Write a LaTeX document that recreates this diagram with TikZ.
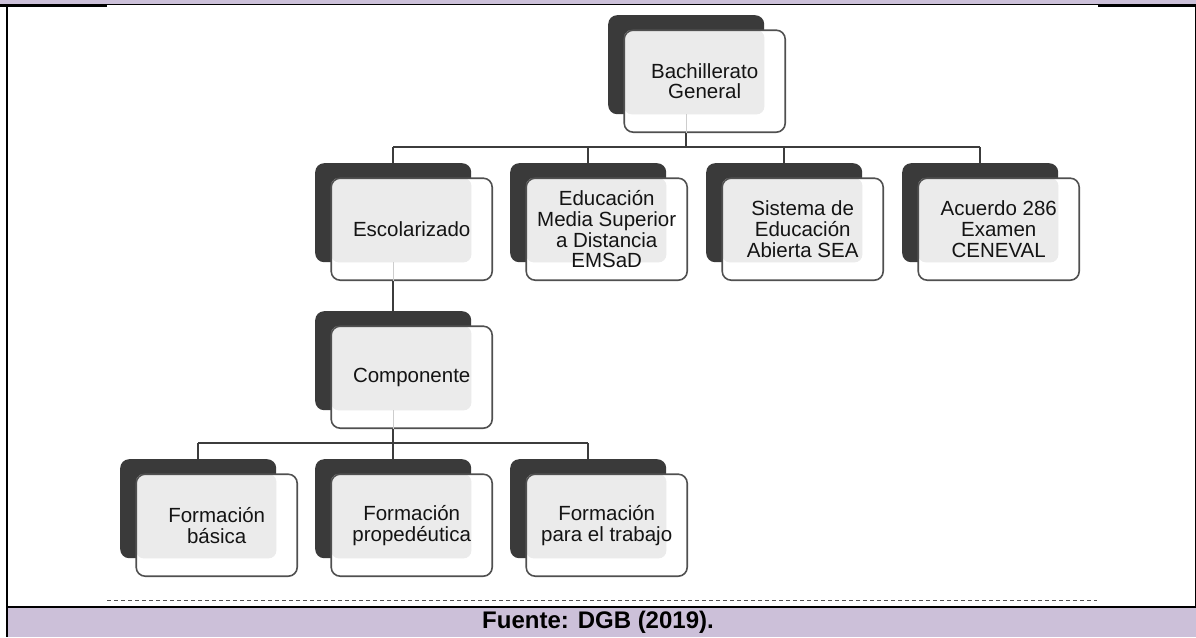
\documentclass[tikz,border=0pt]{standalone}
\usepackage{fontspec}
\setmainfont{Liberation Sans}
\usetikzlibrary{calc}
\definecolor{boxdark}{RGB}{58,58,58}
\definecolor{boxlight}{RGB}{235,235,235}
\definecolor{boxedge}{RGB}{80,80,80}
\definecolor{connc}{RGB}{60,60,60}
\definecolor{faintc}{RGB}{205,205,205}
\definecolor{lavender}{RGB}{204,192,217}
\tikzset{
  darkbox/.style={draw=none, fill=boxdark, rounded corners=9pt, minimum width=156pt, minimum height=99pt, anchor=north west, inner sep=0pt},
  frontbase/.style={draw=none, fill=white, rounded corners=9pt, minimum width=161pt, minimum height=102pt, anchor=north west, inner sep=0pt},
  frontbox/.style={draw=boxedge, line width=1.6pt, rounded corners=9pt, minimum width=161pt, minimum height=102pt, inner sep=0pt, align=center, text=black!92, font=\fontsize{20.5}{20.8}\selectfont},
  conn/.style={draw=connc, line width=1.6pt},
  faint/.style={draw=faintc, line width=1.2pt},
  frame/.style={draw=black, line width=1.8pt},
}
\newcommand{\orgbox}[4]{%
  \node[darkbox] (#1-d) at (#2,#3) {};
  \node[frontbase] (#1-w) at ($(#1-d.north west)+(16pt,-15pt)$) {};
  \fill[boxlight, rounded corners=8pt] (#1-w.north west) rectangle (#1-d.south east);
  \node[frontbox] (#1) at (#1-w.center) {#4};
}
\begin{document}
\begin{tikzpicture}[x=1pt,y=-1pt]
\useasboundingbox (0,0) rectangle (1196,637);
% top frame
\fill[lavender] (0,0) rectangle (1196,4);
\draw[black, line width=1.2pt] (0,4.5) -- (1196,4.5);
\draw[black, line width=2pt] (0,6) -- (107,6);
\draw[black, line width=2pt] (1098,6) -- (1196,6);
% bottom band
\fill[lavender] (8,608) rectangle (1196,637);
\draw[frame] (7,4.5) -- (7,637);
\draw[black, line width=1.4pt] (1195.3,4.5) -- (1195.3,607);
\draw[draw=boxedge, line width=1pt, dash pattern=on 4pt off 3pt] (107,600) -- (1097,600);
\draw[black, line width=2.2pt] (7,607) -- (1196,607);
\node[font=\bfseries\fontsize{24}{26}\selectfont] (src) at (598,622.5) {Fuente: DGB (2019).};
% boxes
\orgbox{bach}{608}{15}{Bachillerato\\General}
\orgbox{esc}{315}{163}{Escolarizado}
\orgbox{ems}{510}{163}{Educación\\Media Superior\\a Distancia\\EMSaD}
\orgbox{sis}{706}{163}{Sistema de\\Educación\\Abierta SEA}
\orgbox{acu}{902}{163}{Acuerdo 286\\Examen\\CENEVAL}
\orgbox{comp}{315}{311}{Componente}
\orgbox{fb}{120}{459}{Formación\\básica}
\orgbox{fp}{315}{459}{Formación\\propedéutica}
\orgbox{ft}{510}{459}{Formación\\para el trabajo}
% connectors
\coordinate (bar1) at (0,147);
\coordinate (bar2) at (0,443);
\draw[faint] (bach-d.south) -- (bach-d.south |- bach.south);
\draw[conn] (bach-d.south |- bach.south) -- (bach-d.south |- bar1);
\draw[conn] (esc-d.north |- bar1) -- (acu-d.north |- bar1);
\draw[conn] (esc-d.north |- bar1) -- (esc-d.north);
\draw[conn] (ems-d.north |- bar1) -- (ems-d.north);
\draw[conn] (sis-d.north |- bar1) -- (sis-d.north);
\draw[conn] (acu-d.north |- bar1) -- (acu-d.north);
\draw[faint] (esc-d.south) -- (esc-d.south |- esc.south);
\draw[conn] (esc-d.south |- esc.south) -- (comp-d.north);
\draw[faint] (comp-d.south) -- (comp-d.south |- comp.south);
\draw[conn] (comp-d.south |- comp.south) -- (comp-d.south |- bar2);
\draw[conn] (fb-d.north |- bar2) -- (ft-d.north |- bar2);
\draw[conn] (fb-d.north |- bar2) -- (fb-d.north);
\draw[conn] (fp-d.north |- bar2) -- (fp-d.north);
\draw[conn] (ft-d.north |- bar2) -- (ft-d.north);
\end{tikzpicture}
\end{document}
